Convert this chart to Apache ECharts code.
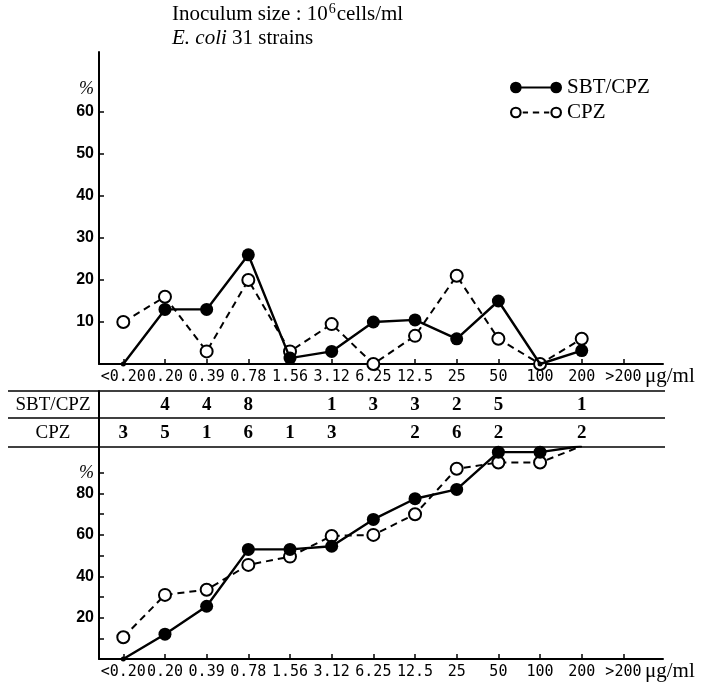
<!DOCTYPE html>
<html>
<head>
<meta charset="utf-8">
<script src="https://cdn.jsdelivr.net/npm/echarts@6/dist/echarts.min.js"></script>
<style>
html,body{margin:0;padding:0;background:#fff;}
#chart{width:705px;height:682px;}
</style>
</head>
<body>
<div id="chart"></div>
<script>
// ---- data ----
const categories = ['<0.20','0.20','0.39','0.78','1.56','3.12','6.25','12.5','25','50','100','200','>200'];
const seriesNames = ['SBT/CPZ','CPZ'];
// distribution (%)
const sbtPct = [0,13,13,26,1.4,3,10,10.5,6,15,0,3.2];
const cpzPct = [10,16,3,20,3,9.5,0,6.7,21,6,0,6];
// number of strains per MIC
const sbtCount = ['',4,4,8,'',1,3,3,2,5,'',1,''];
const cpzCount = [3,5,1,6,1,3,'',2,6,2,'',2,''];
// cumulative (%)
const sbtCum = [0,12,25.5,53,53,54.5,67.5,77.5,82,100,100,103];
const cpzCum = [10.5,31,33.5,45.5,49.5,59.5,60,70,92,95,95,103];
// axis ticks / labels
const topTicks = [10,20,30,40,50,60];
const topPctPos = 65.5;
const bottomTicks = [10,20,30,40,50,60,70,80,90];
const bottomLabels = [20,40,60,80];
const bottomPctPos = 90;
const unitName = 'μg/ml';

// ---- layout ----
const X_MIN = -0.583, X_MAX = 12.95;
const SERIF = 'Liberation Serif';
const catIdx = categories.map((_, i) => i);

function xAxisCfg(gridIndex) {
  return {
    type: 'value', gridIndex, min: X_MIN, max: X_MAX,
    axisLine: {show: true, onZero: false, lineStyle: {color: '#000', width: 2}},
    axisTick: {show: true, inside: true, length: 5, customValues: catIdx, lineStyle: {color: '#000', width: 1.5}},
    axisLabel: {show: true, customValues: catIdx, formatter: v => categories[Math.round(v)],
      hideOverlap: false, showMinLabel: true, showMaxLabel: true,
      fontFamily: 'DejaVu Sans Mono', fontSize: 15, color: '#000', margin: 6},
    splitLine: {show: false},
    name: unitName, nameLocation: 'end', nameGap: -18, nameMoveOverlap: false,
    nameTextStyle: {fontFamily: SERIF, fontSize: 21, color: '#000', align: 'left', verticalAlign: 'top', padding: [2, 0, 0, 0]}
  };
}
function yAxisCfg(gridIndex, max, ticks, labels, pctPos) {
  return {
    type: 'value', gridIndex, min: 0, max: max,
    axisLine: {show: true, onZero: false, lineStyle: {color: '#000', width: 2}},
    axisTick: {show: true, inside: true, length: 5, customValues: ticks, lineStyle: {color: '#000', width: 1.5}},
    axisLabel: {show: true, customValues: labels.concat([pctPos]),
      formatter: v => (v === pctPos ? '{p|%}' : String(v)),
      fontFamily: 'Liberation Sans', fontWeight: 'bold', fontSize: 16, color: '#000', margin: 5,
      rich: {p: {fontFamily: SERIF, fontStyle: 'italic', fontWeight: 'normal', fontSize: 18, color: '#000'}}},
    splitLine: {show: false}
  };
}

const filledIcon = 'path://M0.5,6A5.5,5.5,0,1,1,11.5,6A5.5,5.5,0,1,1,0.5,6Z M38.5,6A5.5,5.5,0,1,1,49.5,6A5.5,5.5,0,1,1,38.5,6Z M6,5L44,5L44,7L6,7Z';
const ringIcon = 'path://M0.5,6A5.5,5.5,0,1,1,11.5,6A5.5,5.5,0,1,1,0.5,6Z M2.5,6A3.5,3.5,0,1,0,9.5,6A3.5,3.5,0,1,0,2.5,6Z M38.5,6A5.5,5.5,0,1,1,49.5,6A5.5,5.5,0,1,1,38.5,6Z M40.5,6A3.5,3.5,0,1,0,47.5,6A3.5,3.5,0,1,0,40.5,6Z M12.5,5L17.5,5L17.5,7L12.5,7Z M22,5L28,5L28,7L22,7Z M32.5,5L37.5,5L37.5,7L32.5,7Z';

const symSize = v => (v[1] <= 0 ? 5 : 13);
function lineSeries(name, values, xi, yi, dashed) {
  return {
    name, type: 'line', xAxisIndex: xi, yAxisIndex: yi, clip: true,
    data: values.map((v, i) => [i, v]),
    symbol: dashed ? 'emptyCircle' : 'circle', symbolSize: dashed ? 12 : symSize,
    itemStyle: {color: '#000', borderColor: '#000', borderWidth: dashed ? 2 : 0},
    lineStyle: {color: '#000', width: dashed ? 2 : 2.4, type: dashed ? [7, 5] : 'solid'},
    z: dashed ? 2 : 3, silent: true
  };
}
function countData(counts, row) {
  const out = [];
  counts.forEach((c, i) => { if (c !== '') out.push([i, row, c]); });
  return out;
}

const chart = echarts.init(document.getElementById('chart'), null, {renderer: 'canvas'});
chart.setOption({
  backgroundColor: '#fff',
  animation: false,
  title: {
    left: 172, top: 2, padding: 0,
    text: '{a|Inoculum size : 10}{s|6}{a|cells/ml}\n{i|E. coli}{a| 31 strains}',
    textStyle: {fontWeight: 'normal', rich: {
      a: {fontFamily: SERIF, fontWeight: 'normal', fontSize: 21, color: '#000', lineHeight: 24},
      i: {fontFamily: SERIF, fontWeight: 'normal', fontStyle: 'italic', fontSize: 21, color: '#000', lineHeight: 24},
      s: {fontFamily: SERIF, fontWeight: 'normal', fontSize: 14, color: '#000', verticalAlign: 'top', lineHeight: 14, padding: [0, 1, 0, 1]}
    }}
  },
  legend: {
    orient: 'vertical', left: 510, top: 77, padding: 0, itemGap: 4,
    itemWidth: 52, itemHeight: 13, selectedMode: false,
    itemStyle: {borderWidth: 0},
    textStyle: {fontFamily: SERIF, fontSize: 21, color: '#000'},
    data: [{name: seriesNames[0], icon: filledIcon}, {name: seriesNames[1], icon: ringIcon}]
  },
  grid: [
    {left: 99, right: 42, top: 52, height: 312},
    {left: 99, right: 42, top: 391, height: 56},
    {left: 99, right: 42, top: 447, height: 214}
  ],
  xAxis: [xAxisCfg(0), {type: 'value', gridIndex: 1, min: X_MIN, max: X_MAX, show: false}, xAxisCfg(2)],
  yAxis: [
    yAxisCfg(0, 74.3, topTicks, topTicks, topPctPos),
    {type: 'category', gridIndex: 1, data: seriesNames, inverse: true,
      axisLine: {show: true, onZero: false, lineStyle: {color: '#000', width: 2}}, axisTick: {show: false},
      axisLabel: {align: 'center', margin: 46, fontFamily: SERIF, fontSize: 19, color: '#000'},
      splitLine: {show: false}},
    yAxisCfg(2, 102.5, bottomTicks, bottomLabels, bottomPctPos)
  ],
  graphic: [
    {type: 'line', shape: {x1: 8, y1: 391, x2: 665, y2: 391}, style: {stroke: '#000', lineWidth: 1.5}},
    {type: 'line', shape: {x1: 8, y1: 418, x2: 665, y2: 418}, style: {stroke: '#000', lineWidth: 1.5}},
    {type: 'line', shape: {x1: 8, y1: 447, x2: 665, y2: 447}, style: {stroke: '#000', lineWidth: 1.5}}
  ],
  series: [
    lineSeries(seriesNames[1], cpzPct, 0, 0, true),
    lineSeries(seriesNames[0], sbtPct, 0, 0, false),
    {type: 'scatter', xAxisIndex: 1, yAxisIndex: 1, symbolSize: 0.1, silent: true,
      itemStyle: {color: '#fff', opacity: 1},
      label: {show: true, position: 'inside', formatter: p => String(p.value[2]),
        fontFamily: SERIF, fontWeight: 'bold', fontSize: 19, color: '#000', textBorderWidth: 0, opacity: 1},
      data: countData(sbtCount, 0).concat(countData(cpzCount, 1))},
    lineSeries(seriesNames[1] + ' ', cpzCum, 2, 2, true),
    lineSeries(seriesNames[0] + ' ', sbtCum, 2, 2, false)
  ]
});
</script>
</body>
</html>
